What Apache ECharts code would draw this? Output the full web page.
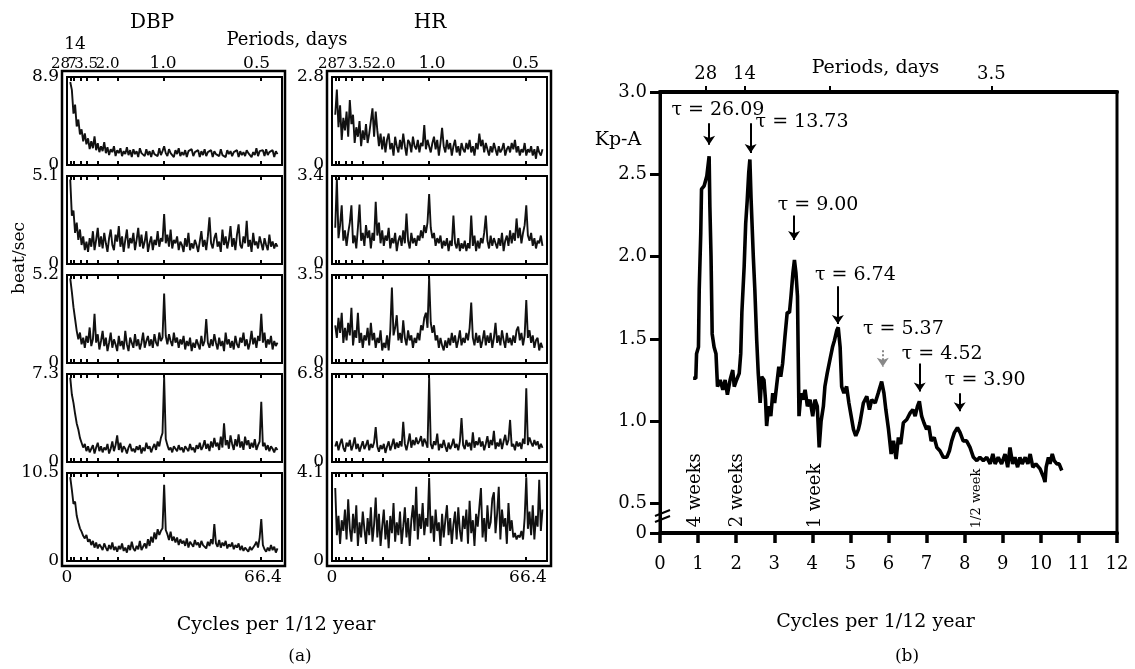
<!DOCTYPE html>
<html>
<head>
<meta charset="utf-8">
<title>DBP, HR and Kp-A spectra</title>
<script src="https://cdn.jsdelivr.net/npm/echarts@6/dist/echarts.min.js"></script>
<style>
  html, body { margin: 0; padding: 0; background: #fff; }
  #main { width: 1135px; height: 669px; }
</style>
</head>
<body>
<div id="main"></div>
<script>
// ---------- panel (a): DBP / HR spectra ----------
// frequency grid of the spectra (cycles per 1/12 year): 1, 1.5, 2 ... 65
var specStart = 1;
var specStep = 0.5;
var specAxisMax = 66.4;

var dbpMax = [8.9, 5.1, 5.2, 7.3, 10.5];
var hrMax = [2.8, 3.4, 3.5, 6.8, 4.1];

var dbp1 = [
  8.4, 7.6, 5.2, 6.1, 3.9, 4.6, 3.1, 3.6, 2.4, 3.2,
  2.1, 2.7, 1.6, 2.4, 1.7, 2.9, 1.5, 2.2, 1.3, 1.9,
  1.4, 2.3, 1.2, 1.8, 1.0, 1.6, 1.3, 1.9, 0.9, 1.5,
  1.2, 1.7, 0.9, 1.4, 1.1, 1.8, 1.0, 1.5, 0.8, 1.6,
  1.1, 1.4, 0.8, 1.7, 1.2, 1.3, 0.9, 1.6, 1.0, 1.4,
  0.8, 1.5, 1.1, 1.3, 0.9, 1.7, 1.0, 1.4, 1.9, 1.2,
  0.9, 1.6, 1.2, 1.4, 0.8, 1.5, 1.1, 1.7, 0.9, 1.3,
  1.0, 1.5, 0.8, 1.4, 1.2, 1.6, 0.9, 1.3, 1.1, 1.5,
  0.8, 1.4, 1.0, 1.6, 0.9, 1.3, 1.2, 1.5, 0.8, 1.4,
  1.1, 1.3, 0.9, 1.6, 1.0, 1.2, 0.8, 1.5, 1.1, 1.4,
  0.9, 1.3, 1.2, 1.5, 0.8, 1.4, 1.0, 1.3, 0.9, 1.5,
  1.2, 1.4, 0.8, 1.3, 1.0, 1.7, 0.9, 1.4, 1.2, 1.5,
  0.9, 1.6, 1.0, 1.3, 1.2, 1.5, 0.8, 1.4, 1.1
];
var dbp2 = [
  4.9, 2.8, 3.1, 1.8, 2.4, 1.4, 2.0, 1.1, 1.6, 0.8,
  1.3, 0.7, 1.5, 1.0, 1.9, 0.8, 1.4, 2.1, 1.0, 1.6,
  0.9, 1.8, 1.2, 0.7, 1.5, 2.0, 1.1, 0.8, 1.7, 1.3,
  2.2, 1.0, 1.6, 0.7, 1.4, 2.0, 0.9, 1.5, 1.2, 1.8,
  0.8, 1.4, 2.1, 1.0, 1.7, 0.9, 1.3, 1.9, 0.7, 1.2,
  1.6, 0.8, 1.4, 1.1, 1.9, 1.0, 1.5, 1.3, 2.9, 1.2,
  1.7, 1.0, 2.0, 0.9, 1.4, 1.2, 1.6, 0.8, 1.3, 1.1,
  0.7, 1.5, 1.0, 1.8, 0.8, 1.2, 0.9, 1.4, 1.1, 0.7,
  1.3, 1.9, 1.0, 1.4, 0.8, 1.6, 2.7, 1.2, 0.9, 1.5,
  1.8, 1.0, 1.3, 0.7, 2.0, 1.1, 1.6, 0.9, 1.4, 2.2,
  1.0, 1.5, 0.8, 1.7, 2.3, 1.1, 0.9, 1.6, 1.2, 2.5,
  1.0, 1.4, 0.7, 1.8, 1.1, 1.3, 0.9, 1.6, 1.2, 0.8,
  1.5, 1.1, 0.8, 1.7, 1.0, 1.3, 0.9, 1.2, 1.0
];
var dbp3 = [
  5.0, 4.2, 3.3, 2.6, 1.9, 1.4, 1.8, 1.1, 1.5, 0.9,
  1.6, 1.2, 2.1, 1.0, 1.4, 2.9, 1.2, 1.7, 0.8, 1.3,
  1.9, 1.0, 1.5, 0.7, 1.2, 1.8, 0.9, 1.4, 1.1, 0.7,
  1.6, 1.0, 1.3, 0.8, 1.9, 1.1, 0.7, 1.5, 1.2, 0.9,
  1.7, 1.0, 1.4, 0.8, 1.2, 1.8, 0.9, 1.3, 1.6, 1.0,
  1.4, 0.9, 1.7, 1.2, 1.0, 1.8, 1.3, 1.5, 4.1, 1.6,
  1.1, 1.7, 1.3, 1.0, 1.8, 1.2, 1.5, 0.9, 1.4, 1.1,
  1.6, 0.8, 1.3, 1.0, 1.5, 0.7, 1.2, 0.9, 1.4, 1.1,
  0.8, 1.6, 1.0, 1.3, 2.6, 1.2, 0.9, 1.4, 1.0, 1.7,
  1.2, 0.8, 1.5, 1.0, 1.3, 0.7, 1.8, 1.1, 1.4, 0.9,
  1.3, 0.8, 1.6, 1.1, 0.9, 1.5, 1.2, 1.8, 1.0, 1.4,
  0.8, 1.2, 1.9, 1.1, 1.5, 0.9, 1.6, 1.3, 2.9, 1.2,
  1.8, 0.9, 1.4, 1.1, 1.6, 0.8, 1.3, 1.0, 1.2
];
var dbp4 = [
  7.0, 5.6, 4.9, 4.0, 3.2, 2.7, 2.0, 1.6, 1.2, 1.5,
  0.9, 1.3, 0.8, 1.1, 1.4, 0.7, 1.2, 1.6, 0.9, 1.3,
  0.8, 1.2, 1.0, 1.5, 0.7, 1.1, 1.7, 0.9, 1.4, 2.2,
  1.0, 1.6, 0.8, 1.3, 1.1, 0.7, 1.2, 1.5, 0.9, 1.1,
  0.8, 1.3, 1.0, 1.4, 0.7, 1.2, 0.9, 1.6, 1.1, 1.3,
  0.8, 1.2, 1.5, 1.0, 1.7, 1.3, 2.0, 2.4, 7.05, 1.9,
  1.4, 1.0, 1.2, 0.8, 1.3, 1.1, 0.9, 1.4, 1.0, 1.2,
  0.8, 1.3, 1.1, 0.9, 1.5, 1.0, 1.2, 0.8, 1.4, 1.1,
  1.6, 1.0, 1.3, 1.8, 1.1, 1.5, 0.9, 1.7, 1.2, 2.0,
  1.3, 1.6, 1.0, 2.1, 1.2, 3.2, 1.4, 1.8, 1.1, 2.2,
  1.5, 1.0, 1.9, 1.3, 2.3, 1.2, 1.7, 1.0, 2.1, 1.4,
  1.8, 1.1, 1.6, 1.2, 1.9, 1.0, 1.4, 1.7, 5.0, 1.3,
  1.6, 1.0, 1.4, 0.9, 1.3, 1.1, 0.8, 1.2, 1.0
];
var dbp5 = [
  10.0, 8.5, 6.8, 7.1, 5.4, 4.6, 3.9, 3.5, 3.0, 2.7,
  3.1, 2.3, 2.6, 1.9, 2.4, 1.6, 2.2, 1.5, 2.0, 1.7,
  1.3, 2.1, 1.6, 1.2, 1.9, 1.4, 2.2, 1.3, 1.7, 1.1,
  1.8, 1.4, 2.1, 1.2, 1.6, 1.0, 1.9, 1.3, 2.3, 1.5,
  1.2, 1.8, 1.4, 2.4, 1.3, 1.7, 2.1, 1.5, 2.6, 1.8,
  2.9, 2.2, 3.4, 2.6, 3.8, 3.1, 3.6, 3.9, 9.1, 3.7,
  3.2, 2.5, 3.5, 2.4, 2.9, 2.2, 2.8, 1.9, 2.6, 2.1,
  2.4, 1.8, 2.7, 1.6, 2.3, 2.0, 1.7, 2.5, 1.9, 2.2,
  1.6, 2.4, 1.9, 2.1, 1.5, 2.3, 1.8, 2.6, 2.0, 4.4,
  2.1, 1.7, 2.5, 1.6, 2.2, 1.8, 2.4, 1.5, 2.0, 1.7,
  2.2, 1.4, 1.9, 1.6, 2.1, 1.3, 1.8, 1.2, 1.6, 1.4,
  1.1, 1.7, 1.3, 1.5, 1.9, 2.3, 1.6, 2.8, 5.0, 1.9,
  1.4, 1.1, 1.6, 1.2, 1.9, 1.3, 1.7, 1.0, 1.5
];

var hr1 = [
  1.6, 2.4, 1.2, 1.9, 0.8, 1.5, 1.1, 1.7, 0.9, 2.07,
  1.3, 1.6, 0.7, 1.2, 0.9, 1.4, 0.6, 1.1, 0.8, 1.3,
  0.7, 1.0, 1.4, 1.8, 0.9, 1.7, 1.1, 0.6, 1.0, 0.5,
  0.9, 0.4, 0.8, 1.0, 0.5, 0.7, 0.3, 0.9, 0.6, 0.4,
  0.8, 0.5, 1.0, 0.6, 0.3, 0.8, 0.7, 0.4, 0.9, 0.6,
  0.5, 0.8, 0.4, 0.7, 0.6, 1.27, 0.5, 0.8, 0.6, 0.4,
  0.7, 0.9, 0.5, 0.8, 0.3, 0.7, 1.18, 0.6, 0.4, 0.8,
  0.5, 0.7, 0.3, 0.6, 0.8, 0.4, 0.6, 0.3, 0.7, 0.5,
  0.4, 0.7, 0.5, 0.8, 0.4, 0.6, 0.3, 0.7, 0.5, 1.0,
  0.6, 0.8, 0.4, 0.7, 0.5, 0.3, 0.6, 0.4, 0.7, 0.5,
  0.3, 0.6, 0.4, 0.5, 0.7, 0.3, 0.5, 0.6, 0.4, 0.7,
  0.5, 0.8, 0.4, 0.6, 0.3, 0.5, 0.4, 0.7, 0.3, 0.5,
  0.4, 0.6, 0.3, 0.5, 0.2, 0.6, 0.4, 0.3, 0.5
];
var hr2 = [
  1.4, 3.3, 1.0, 1.5, 2.27, 0.9, 1.3, 0.7, 1.2, 1.6,
  2.27, 0.8, 1.1, 0.6, 1.4, 2.3, 0.9, 1.2, 0.7, 1.5,
  1.0, 1.3, 0.6, 1.2, 0.9, 2.4, 1.1, 1.6, 0.8, 1.3,
  0.7, 1.1, 0.9, 1.4, 0.6, 1.0, 0.8, 1.2, 0.5, 0.9,
  1.1, 0.7, 1.3, 0.8, 1.95, 0.9, 0.6, 1.2, 0.8, 1.0,
  0.7, 1.1, 0.9, 1.3, 1.0, 1.5, 1.2, 1.6, 2.7, 1.4,
  1.0, 1.2, 0.7, 1.0, 0.8, 1.1, 0.6, 0.9, 0.7, 1.0,
  0.5, 0.9, 0.7, 1.87, 0.8, 0.6, 1.0, 0.5, 0.8, 0.6,
  0.9, 0.5, 0.8, 0.6, 1.87, 0.7, 1.1, 0.5, 0.9, 0.6,
  1.0, 0.8, 1.2, 1.87, 0.9, 0.6, 1.1, 0.7, 1.0, 0.8,
  0.6, 1.0, 0.7, 1.2, 0.5, 0.9, 1.1, 0.7, 1.3, 0.8,
  1.2, 0.9, 1.76, 1.0, 1.4, 0.8, 1.2, 1.5, 2.27, 1.1,
  0.9, 1.2, 0.7, 1.0, 0.6, 0.9, 0.8, 1.1, 0.7
];
var hr3 = [
  1.5, 1.0, 1.8, 1.2, 2.0, 0.8, 1.4, 0.9, 1.6, 1.1,
  2.2, 0.7, 1.3, 1.0, 2.0, 0.8, 1.2, 0.6, 1.1, 0.9,
  1.4, 0.7, 1.6, 0.9, 1.2, 0.6, 1.0, 0.8, 1.3, 0.5,
  0.8, 0.6, 1.1, 0.5, 1.3, 3.0, 1.1, 1.4, 1.9, 0.9,
  1.2, 0.8, 1.7, 1.0, 0.7, 1.3, 0.9, 1.1, 0.6, 1.0,
  0.8, 1.2, 0.9, 1.5, 1.3, 1.8, 2.0, 1.4, 3.4, 1.6,
  1.2, 1.5, 0.9, 1.1, 0.6, 1.0, 0.7, 0.5, 0.9, 0.6,
  1.0, 0.7, 1.2, 0.8, 1.1, 0.6, 0.9, 1.3, 0.7, 1.0,
  0.8, 1.2, 0.9, 1.4, 2.4, 1.0, 0.7, 1.2, 0.8, 1.1,
  0.6, 0.9, 1.3, 0.7, 1.1, 0.8, 1.2, 0.6, 1.0, 1.6,
  0.8, 1.1, 0.7, 1.3, 0.9, 0.6, 1.2, 0.8, 1.0, 0.7,
  1.1, 0.8, 1.3, 1.45, 0.9, 1.2, 0.7, 1.1, 2.5, 1.0,
  1.3, 0.8, 1.1, 0.6, 0.9, 1.0, 0.5, 0.8, 0.6
];
var hr4 = [
  1.2, 1.6, 0.9, 1.4, 1.8, 1.1, 0.8, 1.5, 1.2, 1.7,
  0.9, 1.3, 1.9, 1.0, 1.4, 0.8, 1.2, 1.6, 1.0, 1.3,
  1.7, 0.9, 1.4, 1.1, 1.5, 2.7, 1.2, 0.8, 1.3, 1.0,
  1.4, 0.7, 1.2, 1.6, 0.9, 1.3, 1.8, 1.0, 1.5, 1.1,
  1.6, 1.2, 3.1, 1.4, 0.9, 1.5, 2.2, 1.1, 1.7, 1.3,
  1.9, 1.4, 1.6, 2.0, 1.2, 1.8, 1.5, 1.1, 6.5, 1.4,
  1.0, 1.6, 1.3, 2.2, 0.9, 1.4, 1.1, 1.7, 1.2, 0.8,
  1.5, 1.0, 1.3, 1.8, 1.1, 1.4, 0.9, 1.6, 3.4, 1.3,
  1.0, 1.7, 1.2, 1.5, 0.9, 2.3, 1.1, 1.6, 1.3, 1.9,
  1.2, 1.6, 0.9, 1.4, 2.0, 1.1, 1.7, 1.3, 2.4, 1.0,
  1.5, 1.2, 1.8, 1.0, 1.6, 2.1, 1.3, 1.7, 3.25, 1.2,
  1.4, 0.9, 1.6, 1.2, 1.5, 1.0, 1.8, 1.4, 5.7, 1.3,
  1.9, 1.5, 1.2, 1.7, 1.3, 1.6, 1.0, 1.4, 1.1
];
var hr5 = [
  3.4, 1.2, 2.1, 0.8, 1.9, 1.4, 2.4, 1.0, 2.87, 1.5,
  0.9, 2.2, 1.3, 2.6, 0.7, 1.8, 1.1, 2.3, 1.5, 0.8,
  2.0, 1.2, 2.5, 0.9, 1.7, 2.96, 1.1, 2.2, 0.7, 1.6,
  2.4, 1.0, 1.9, 0.6, 2.1, 1.3, 2.7, 0.9, 1.8, 1.2,
  2.3, 0.8, 1.6, 2.5, 1.1, 2.0, 0.7, 1.9, 2.6, 1.4,
  3.46, 1.0, 2.2, 1.5, 2.7, 1.2, 2.0, 1.6, 3.87, 1.3,
  2.1, 0.9, 2.4, 1.4, 1.8, 0.7, 2.2, 1.1, 1.9, 2.6,
  1.2, 2.0, 0.8, 1.7, 2.3, 1.0, 2.5, 1.4, 0.9, 2.1,
  1.5, 2.4, 0.8, 2.8, 1.3, 1.9, 0.7, 2.2, 1.6, 2.5,
  3.4, 1.1, 2.0, 0.9, 2.6, 1.5, 1.8, 2.9, 3.2, 1.3,
  2.2, 3.46, 1.0, 2.4, 1.6, 2.0, 0.8, 2.7, 1.4, 1.9,
  1.1, 1.3, 1.0, 1.2, 1.1, 1.4, 1.0, 2.0, 3.9, 1.5,
  2.3, 1.2, 2.6, 1.0, 2.1, 1.6, 3.78, 1.4, 2.4
];

// period ticks on top of each spectrum (cycles per 1/12 year) and their labels
var periodFreq = [1.1, 2.2, 4.3, 6.2, 9.6, 15.6, 30.0, 59.8];
var periodText = ['28', '14', '7', '', '3.5', '2.0', '1.0', '0.5'];

// ---------- panel (b): Kp-A ----------
var kpFreq = [
  0.87, 0.94, 0.96, 1.01, 1.03, 1.07, 1.09, 1.16, 1.21, 1.23,
  1.29, 1.31, 1.34, 1.37, 1.42, 1.47, 1.51, 1.58, 1.65, 1.71,
  1.77, 1.84, 1.91, 1.95, 2.01, 2.08, 2.12, 2.15, 2.21, 2.25,
  2.29, 2.33, 2.36, 2.39, 2.42, 2.45, 2.49, 2.54, 2.58, 2.63,
  2.67, 2.73, 2.77, 2.80, 2.85, 2.91, 2.96, 3.01, 3.06, 3.12,
  3.17, 3.22, 3.28, 3.34, 3.40, 3.44, 3.49, 3.53, 3.57, 3.61,
  3.63, 3.65, 3.70, 3.75, 3.81, 3.87, 3.94, 4.01, 4.07, 4.13,
  4.18, 4.23, 4.29, 4.33, 4.39, 4.46, 4.53, 4.58, 4.64, 4.68,
  4.73, 4.77, 4.83, 4.90, 4.96, 5.02, 5.08, 5.14, 5.21,
  5.25, 5.34, 5.43, 5.50, 5.56, 5.65, 5.73, 5.82, 5.88, 5.93,
  6.00, 6.07, 6.13, 6.20, 6.26, 6.32, 6.39, 6.48, 6.57, 6.64,
  6.70, 6.76, 6.81, 6.87, 6.93, 7.00, 7.06, 7.12, 7.20, 7.27,
  7.35, 7.44, 7.53, 7.60, 7.66, 7.73, 7.81, 7.88, 7.96, 8.05,
  8.14, 8.23, 8.32, 8.40, 8.49, 8.58, 8.67, 8.74, 8.80, 8.88,
  8.97, 9.06, 9.13, 9.19, 9.26, 9.32, 9.39, 9.45, 9.51, 9.59,
  9.66, 9.72, 9.79, 9.87, 9.98, 10.07, 10.11, 10.14, 10.20, 10.24,
  10.30, 10.35, 10.42, 10.48, 10.55
];
var kpValue = [
  1.26, 1.26, 1.41, 1.45, 1.80, 2.14, 2.41, 2.43, 2.43, 2.49,
  2.61, 2.30, 2.00, 1.53, 1.45, 1.41, 1.21, 1.25, 1.19, 1.25,
  1.16, 1.25, 1.31, 1.21, 1.25, 1.29, 1.41, 1.66, 1.94, 2.20,
  2.34, 2.51, 2.59, 2.36, 2.18, 2.00, 1.80, 1.49, 1.29, 1.11,
  1.27, 1.25, 1.13, 0.97, 1.09, 1.03, 1.17, 1.11, 1.21, 1.33,
  1.27, 1.35, 1.51, 1.66, 1.66, 1.76, 1.90, 1.98, 1.90, 1.76,
  1.39, 1.03, 1.17, 1.13, 1.19, 1.09, 1.13, 1.03, 1.13, 1.09,
  0.84, 1.00, 1.09, 1.21, 1.29, 1.37, 1.45, 1.49, 1.55, 1.57,
  1.45, 1.21, 1.17, 1.21, 1.11, 1.03, 0.95, 0.91, 0.95,
  0.99, 1.11, 1.15, 1.07, 1.13, 1.11, 1.17, 1.24, 1.17, 1.07,
  0.95, 0.80, 0.88, 0.77, 0.90, 0.86, 0.99, 1.01, 1.05, 1.07,
  1.03, 1.09, 1.12, 1.03, 0.99, 0.95, 0.97, 0.88, 0.90, 0.84,
  0.82, 0.78, 0.78, 0.82, 0.88, 0.93, 0.96, 0.93, 0.88, 0.88,
  0.84, 0.78, 0.76, 0.78, 0.76, 0.78, 0.74, 0.80, 0.74, 0.78,
  0.74, 0.80, 0.72, 0.84, 0.74, 0.78, 0.72, 0.78, 0.74, 0.78,
  0.74, 0.80, 0.72, 0.74, 0.71, 0.66, 0.63, 0.72, 0.78, 0.74,
  0.80, 0.76, 0.74, 0.74, 0.70
];

// the y axis is broken below 0.5; its lowest tick (value 0.32) is labelled 0
var kpYTicks = [0.32, 0.5, 1.0, 1.5, 2.0, 2.5, 3.0];
var kpPeriodFreq = [1.2, 2.22, 4.45, 8.7];
var kpPeriodText = ['28', '14', '', '3.5'];

// peak annotations: label position, arrow from/to
var tauText = ['τ = 26.09', 'τ = 13.73', 'τ = 9.00', 'τ = 6.74', 'τ = 5.37', 'τ = 4.52', 'τ = 3.90'];
var tauLabelAt = [[1.52, 2.89], [3.73, 2.82], [4.15, 2.31], [5.13, 1.89], [6.39, 1.56], [7.41, 1.41], [8.54, 1.25]];
var tauArrowFreq = [1.29, 2.38, 3.52, 4.67, 5.85, 6.82, 7.87];
var tauArrowTop = [2.81, 2.81, 2.25, 1.82, 1.43, 1.35, 1.17];
var tauArrowEnd = [2.68, 2.63, 2.10, 1.59, 1.33, 1.18, 1.06];

var weekText = ['4 weeks', '2 weeks', '1 week', '1/2 week'];
var weekAt = [[0.92, 0.58], [2.02, 0.58], [4.08, 0.545], [8.32, 0.53]];

var serif = 'DejaVu Serif';

// ---------- build panel (a) ----------
var rowTop = [77, 176, 275, 374, 473];
var columns = [
    { left: 67, max: dbpMax, data: [dbp1, dbp2, dbp3, dbp4, dbp5],
      shift: [-10, 1, -9, 0, -12, -10, -1, -4], show14: true },
    { left: 332, max: hrMax, data: [hr1, hr2, hr3, hr4, hr5],
      shift: [-8, 0, -5, 0, -3, 1, 3, 0], show14: false }
];

function periodRich(shift) {
    var rich = {};
    shift.forEach(function (s, k) {
        rich['p' + k] = {
            fontFamily: serif,
            fontSize: (k === 1 || k >= 6) ? 17 : 15,
            color: '#000',
            padding: [0, s < 0 ? -2 * s : 0, k === 1 ? 19 : 0, s > 0 ? 2 * s : 0]
        };
    });
    return rich;
}

function periodFormatter(show14) {
    return function (v) {
        for (var k = 0; k < periodFreq.length; k++) {
            if (Math.abs(periodFreq[k] - v) < 0.01) {
                if (periodText[k] === '' || (k === 1 && !show14)) return '';
                return '{p' + k + '|' + periodText[k] + '}';
            }
        }
        return '';
    };
}

var grids = [], xAxes = [], yAxes = [], series = [];

columns.forEach(function (col) {
    rowTop.forEach(function (top, r) {
        var gi = grids.length;
        var ymax = col.max[r];
        grids.push({
            left: col.left, width: 215, top: top, height: 88,
            show: true, borderColor: '#000', borderWidth: 2
        });
        // bottom axis
        xAxes.push({
            type: 'value', gridIndex: gi, position: 'bottom',
            min: 0, max: specAxisMax,
            axisLine: { show: false },
            splitLine: { show: false },
            axisTick: { show: true, inside: true, length: 4, lineStyle: { color: '#000', width: 2 }, customValues: periodFreq },
            axisLabel: {
                show: r === 4, customValues: [0, specAxisMax], margin: 8,
                fontFamily: serif, fontSize: 17, color: '#000',
                formatter: function (v) { return v === 0 ? '0' : '{r|66.4}'; },
                rich: { r: { fontFamily: serif, fontSize: 17, color: '#000', padding: [0, 38, 0, 0] } }
            }
        });
        // top axis with period ticks
        xAxes.push({
            type: 'value', gridIndex: gi, position: 'top',
            min: 0, max: specAxisMax,
            axisLine: { show: false },
            splitLine: { show: false },
            axisTick: { show: true, inside: true, length: 4, lineStyle: { color: '#000', width: 2 }, customValues: periodFreq },
            axisLabel: {
                show: r === 0, customValues: periodFreq, margin: 5,
                formatter: periodFormatter(col.show14),
                rich: periodRich(col.shift)
            }
        });
        yAxes.push({
            type: 'value', gridIndex: gi, min: 0, max: ymax,
            axisLine: { show: false },
            axisTick: { show: false },
            splitLine: { show: false },
            axisLabel: {
                customValues: [0, ymax], margin: 8,
                fontFamily: serif, fontSize: 17, color: '#000',
                formatter: function (v) { return v === 0 ? '0' : v.toFixed(1); }
            }
        });
        series.push({
            type: 'line', xAxisIndex: xAxes.length - 2, yAxisIndex: yAxes.length - 1,
            showSymbol: false, silent: true,
            lineStyle: { color: '#111', width: 1.9 },
            data: col.data[r].map(function (v, k) { return [specStart + k * specStep, v]; })
        });
    });
});

// ---------- build panel (b) ----------
var gb = grids.length;
grids.push({ left: 660, right: 18, top: 92, bottom: 136, show: true, borderColor: '#000', borderWidth: 3 });

var xb = xAxes.length;
xAxes.push({
    type: 'value', gridIndex: gb, position: 'bottom', min: 0, max: 12, interval: 1,
    name: 'Cycles per 1/12 year', nameLocation: 'middle', nameGap: 80, nameMoveOverlap: false,
    nameTextStyle: { fontFamily: serif, fontSize: 19, color: '#000', padding: [0, 26, 0, 0] },
    axisLine: { lineStyle: { color: '#000', width: 4 } },
    axisTick: { length: 10, lineStyle: { color: '#000', width: 3.5 } },
    splitLine: { show: false },
    axisLabel: { margin: 22, fontFamily: serif, fontSize: 18, color: '#000' }
});
xAxes.push({
    type: 'value', gridIndex: gb, position: 'top', min: 0, max: 12,
    name: 'Periods, days', nameLocation: 'middle', nameGap: 14, nameMoveOverlap: false,
    nameTextStyle: { fontFamily: serif, fontSize: 19, color: '#000', padding: [0, 26, 0, 0] },
    axisLine: { lineStyle: { color: '#000', width: 4 } },
    axisTick: { length: 6, lineStyle: { color: '#000', width: 2 }, customValues: kpPeriodFreq },
    splitLine: { show: false },
    axisLabel: {
        customValues: [kpPeriodFreq[0], kpPeriodFreq[1], kpPeriodFreq[3]], margin: 9,
        fontFamily: serif, fontSize: 18, color: '#000',
        formatter: function (v) {
            for (var k = 0; k < kpPeriodFreq.length; k++) {
                if (Math.abs(kpPeriodFreq[k] - v) < 0.01) return kpPeriodText[k];
            }
            return '';
        }
    }
});
var yb = yAxes.length;
yAxes.push({
    type: 'value', gridIndex: gb, min: kpYTicks[0], max: 3.0,
    axisLine: { lineStyle: { color: '#000', width: 3 } },
    axisTick: { length: 10, lineStyle: { color: '#000', width: 3 }, customValues: kpYTicks },
    splitLine: { show: false },
    axisLabel: {
        customValues: kpYTicks, margin: 13,
        fontFamily: serif, fontSize: 18, color: '#000',
        formatter: function (v) { return v < 0.4 ? '0' : v.toFixed(1); }
    }
});

series.push({
    name: 'Kp-A', type: 'line', xAxisIndex: xb, yAxisIndex: yb,
    showSymbol: false, silent: true,
    lineStyle: { color: '#000', width: 3.6 },
    data: kpFreq.map(function (f, k) { return [f, kpValue[k]]; }),
    markLine: {
        silent: true,
        symbol: ['none', 'arrow'],
        symbolSize: 9,
        label: { show: false },
        lineStyle: { color: '#000', width: 2, type: 'solid' },
        data: tauArrowFreq.map(function (f, k) {
            var line = [{ coord: [f, tauArrowTop[k]] }, { coord: [f, tauArrowEnd[k]] }];
            if (k === 4) line[0].lineStyle = { color: '#888', type: 'dotted', width: 2 };
            return line;
        })
    }
});
series.push({
    name: 'tau', type: 'scatter', xAxisIndex: xb, yAxisIndex: yb,
    symbolSize: 0, silent: true, itemStyle: { color: '#000', opacity: 1 },
    label: {
        show: true, position: 'inside', formatter: '{b}', fontFamily: serif, fontSize: 19,
        color: '#000', opacity: 1, textBorderWidth: 0
    },
    data: tauText.map(function (t, k) { return { name: t, value: tauLabelAt[k] }; })
});
series.push({
    name: 'weeks', type: 'scatter', xAxisIndex: xb, yAxisIndex: yb,
    symbolSize: 0, silent: true, itemStyle: { color: '#000', opacity: 1 },
    label: {
        show: true, position: 'inside', rotate: 90, formatter: '{b}', fontFamily: serif,
        color: '#000', opacity: 1, textBorderWidth: 0
    },
    data: weekText.map(function (t, k) {
        return { name: t, value: weekAt[k], label: { fontSize: k === 3 ? 13 : 18 } };
    })
});

var option = {
    backgroundColor: '#fff',
    animation: false,
    grid: grids,
    xAxis: xAxes,
    yAxis: yAxes,
    series: series,
    graphic: [
        // outer frames of panel (a)
        { type: 'rect', shape: { x: 62, y: 71, width: 223, height: 495 }, style: { fill: 'none', stroke: '#000', lineWidth: 2.5 } },
        { type: 'rect', shape: { x: 327, y: 71, width: 224, height: 495 }, style: { fill: 'none', stroke: '#000', lineWidth: 2.5 } },
        { type: 'text', x: 152, y: 23, style: { text: 'DBP', font: '20px "DejaVu Serif"', fill: '#000', align: 'center', verticalAlign: 'middle' } },
        { type: 'text', x: 430, y: 23, style: { text: 'HR', font: '20px "DejaVu Serif"', fill: '#000', align: 'center', verticalAlign: 'middle' } },
        { type: 'text', x: 287, y: 40, style: { text: 'Periods, days', font: '18px "DejaVu Serif"', fill: '#000', align: 'center', verticalAlign: 'middle' } },
        { type: 'text', x: 20, y: 258, rotation: Math.PI / 2, style: { text: 'beat/sec', font: '17px "DejaVu Serif"', fill: '#000', align: 'center', verticalAlign: 'middle' } },
        { type: 'text', x: 276, y: 625, style: { text: 'Cycles per 1/12 year', font: '19px "DejaVu Serif"', fill: '#000', align: 'center', verticalAlign: 'middle' } },
        { type: 'text', x: 300, y: 657, style: { text: '(a)', font: '17px "DejaVu Serif"', fill: '#000', align: 'center', verticalAlign: 'middle' } },
        // panel (b) labels
        { type: 'text', x: 618, y: 140, style: { text: 'Kp-A', font: '19px "DejaVu Serif"', fill: '#000', align: 'center', verticalAlign: 'middle' } },
        { type: 'text', x: 907, y: 657, style: { text: '(b)', font: '17px "DejaVu Serif"', fill: '#000', align: 'center', verticalAlign: 'middle' } },
        // axis break marks
        { type: 'line', shape: { x1: 655, y1: 516, x2: 670, y2: 510 }, style: { stroke: '#000', lineWidth: 2 } },
        { type: 'line', shape: { x1: 655, y1: 522, x2: 670, y2: 516 }, style: { stroke: '#000', lineWidth: 2 } }
    ]
};

var myChart = echarts.init(document.getElementById('main'));
myChart.setOption(option);
</script>
</body>
</html>
